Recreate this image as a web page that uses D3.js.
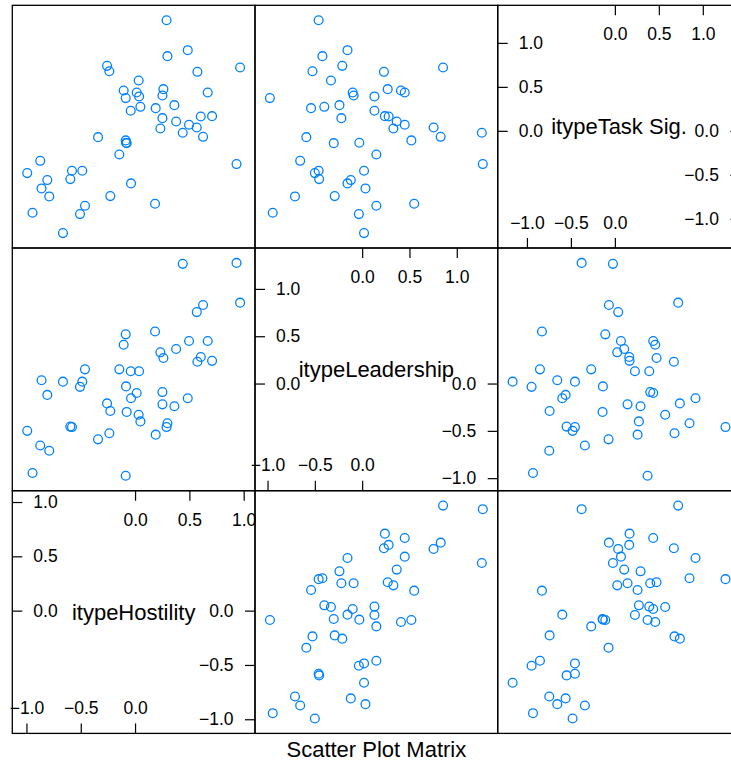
<!DOCTYPE html>
<html>
<head>
<meta charset="utf-8">
<script src="https://cdnjs.cloudflare.com/ajax/libs/d3/7.8.5/d3.min.js"></script>
<style>
  body { margin: 0; background: #fff; }
  svg text { font-family: "Liberation Sans", Arial, Helvetica, sans-serif; }
</style>
</head>
<body>
<div id="chart"></div>
<script>
// variables, bottom-left to top-right on the diagonal
var varNames = ["itypeHostility", "itypeLeadership", "itypeTask Sig."];

var hostility = [0.290, 0.485, 0.298, -0.258, -0.237, 0.967, 0.574, 0.033, -0.105, 0.015,
  -0.086, 0.037, 0.261, 0.252, 0.669, -0.040, 0.049, 0.190, 0.362, 0.252,
  0.378, 0.605, 0.709, 0.233, 0.497, 0.568, 0.439, 0.626, -0.341, -0.086,
  -0.083, -0.077, -0.145, 0.934, -0.873, -0.993, -0.581, -0.486, -0.808, -0.596,
  -0.861, -0.790, -0.037, -0.228, -0.461, -0.507, -0.944, 0.184, -0.664];

var leadership = [-0.46, -0.155, -0.42, -0.21, -0.525, 0.855, 0.23, -0.33, 0.41, -0.10,
  -0.975, 0.13, 0.27, -0.09, 0.45, 0.13, -0.40, -0.54, -0.24, -0.22,
  0.365, 0.28, 0.24, 0.33, 0.45, 0.755, 1.265, 0.83, -0.59, 0.52,
  -0.03, -0.30, 0.15, 1.275, -0.655, -0.50, -0.46, 0.02, -0.12, -0.455,
  0.035, -0.71, -0.155, -0.29, 0.15, -0.035, -0.945, 0.55, 0.02];

var taskSig = [1.258, 0.917, 0.849, 0.739, 0.678, 0.720, 0.671, 0.572, 0.459, 0.436,
  0.372, 0.391, 0.474, 0.402, 0.436, 0.228, 0.273, 0.258, 0.292, 0.144,
  0.106, 0.163, 0.167, 0.027, 0.069, 0.038, -0.022, -0.068, -0.072, -0.109,
  -0.136, -0.140, -0.269, -0.378, -0.341, -0.481, -0.454, -0.454, -0.560, -0.549,
  -0.655, -0.746, -0.598, -0.742, -0.852, -0.947, -0.931, -0.829, -1.163];

var lowTicks = [-1.0, -0.5, 0.0];
var highTicks = [0.0, 0.5, 1.0];
var title = "Scatter Plot Matrix";

var width = 731, height = 760;
var margin = { left: 12.3, top: 5.3 };
var size = 242.7;
var tickLen = 10;
var tickFont = 17.5;
var labelFont = 22;
var pointColor = "#0080ff";

var columns = [hostility, leadership, taskSig];
var rows = hostility.map(function(d, i) { return [hostility[i], leadership[i], taskSig[i]]; });

// lattice style limits: data range padded by 7% each side
function makeScale(values, range) {
  var ext = d3.extent(values);
  var pad = (ext[1] - ext[0]) * 0.07;
  return d3.scaleLinear().domain([ext[0] - pad, ext[1] + pad]).range(range);
}
var xScales = columns.map(function(v) { return makeScale(v, [0, size]); });
var yScales = columns.map(function(v) { return makeScale(v, [size, 0]); });

var fmt = d3.format(".1f");

var svg = d3.select("#chart").append("svg")
    .attr("width", width)
    .attr("height", height);

function styleAxis(g) {
  g.select(".domain").remove();
  g.selectAll(".tick line").attr("stroke", "#000").attr("stroke-width", 1.2);
  g.selectAll(".tick text").attr("fill", "#000");
  g.attr("font-size", tickFont).attr("font-family", null);
}

for (var r = 0; r < 3; r++) {
  for (var c = 0; c < 3; c++) {
    var xi = c, yi = 2 - r;
    var g = svg.append("g")
        .attr("transform", "translate(" + (margin.left + c * size) + "," + (margin.top + r * size) + ")");

    if (xi === yi) {
      var sx = xScales[xi], sy = yScales[yi];

      g.append("text")
          .attr("x", size / 2)
          .attr("y", size / 2)
          .attr("text-anchor", "middle")
          .attr("dominant-baseline", "central")
          .attr("font-size", labelFont)
          .attr("fill", "#000")
          .text(varNames[xi]);

      // top edge, ticks pointing in
      g.append("g")
          .call(d3.axisBottom(sx).tickValues(highTicks).tickFormat(fmt).tickSize(tickLen).tickPadding(12.5))
          .call(styleAxis);
      // left edge
      g.append("g")
          .call(d3.axisRight(sy).tickValues(highTicks).tickFormat(fmt).tickSize(tickLen).tickPadding(11))
          .call(styleAxis);
      // bottom edge
      g.append("g")
          .attr("transform", "translate(0," + size + ")")
          .call(d3.axisTop(sx).tickValues(lowTicks).tickFormat(fmt).tickSize(tickLen).tickPadding(9.5))
          .call(styleAxis);
      // right edge
      g.append("g")
          .attr("transform", "translate(" + size + ",0)")
          .call(d3.axisLeft(sy).tickValues(lowTicks).tickFormat(fmt).tickSize(tickLen).tickPadding(11.5))
          .call(styleAxis);
    } else {
      g.selectAll("circle")
          .data(rows)
        .enter().append("circle")
          .attr("cx", function(d) { return xScales[xi](d[xi]); })
          .attr("cy", function(d) { return yScales[yi](d[yi]); })
          .attr("r", 4.4)
          .attr("fill", "none")
          .attr("stroke", pointColor)
          .attr("stroke-width", 1.3);
    }

    g.append("rect")
        .attr("width", size)
        .attr("height", size)
        .attr("fill", "none")
        .attr("stroke", "#000")
        .attr("stroke-width", 1.3);
  }
}

svg.append("text")
    .attr("x", margin.left + 1.5 * size)
    .attr("y", 756.5)
    .attr("text-anchor", "middle")
    .attr("font-size", labelFont)
    .attr("fill", "#000")
    .text(title);
</script>
</body>
</html>
